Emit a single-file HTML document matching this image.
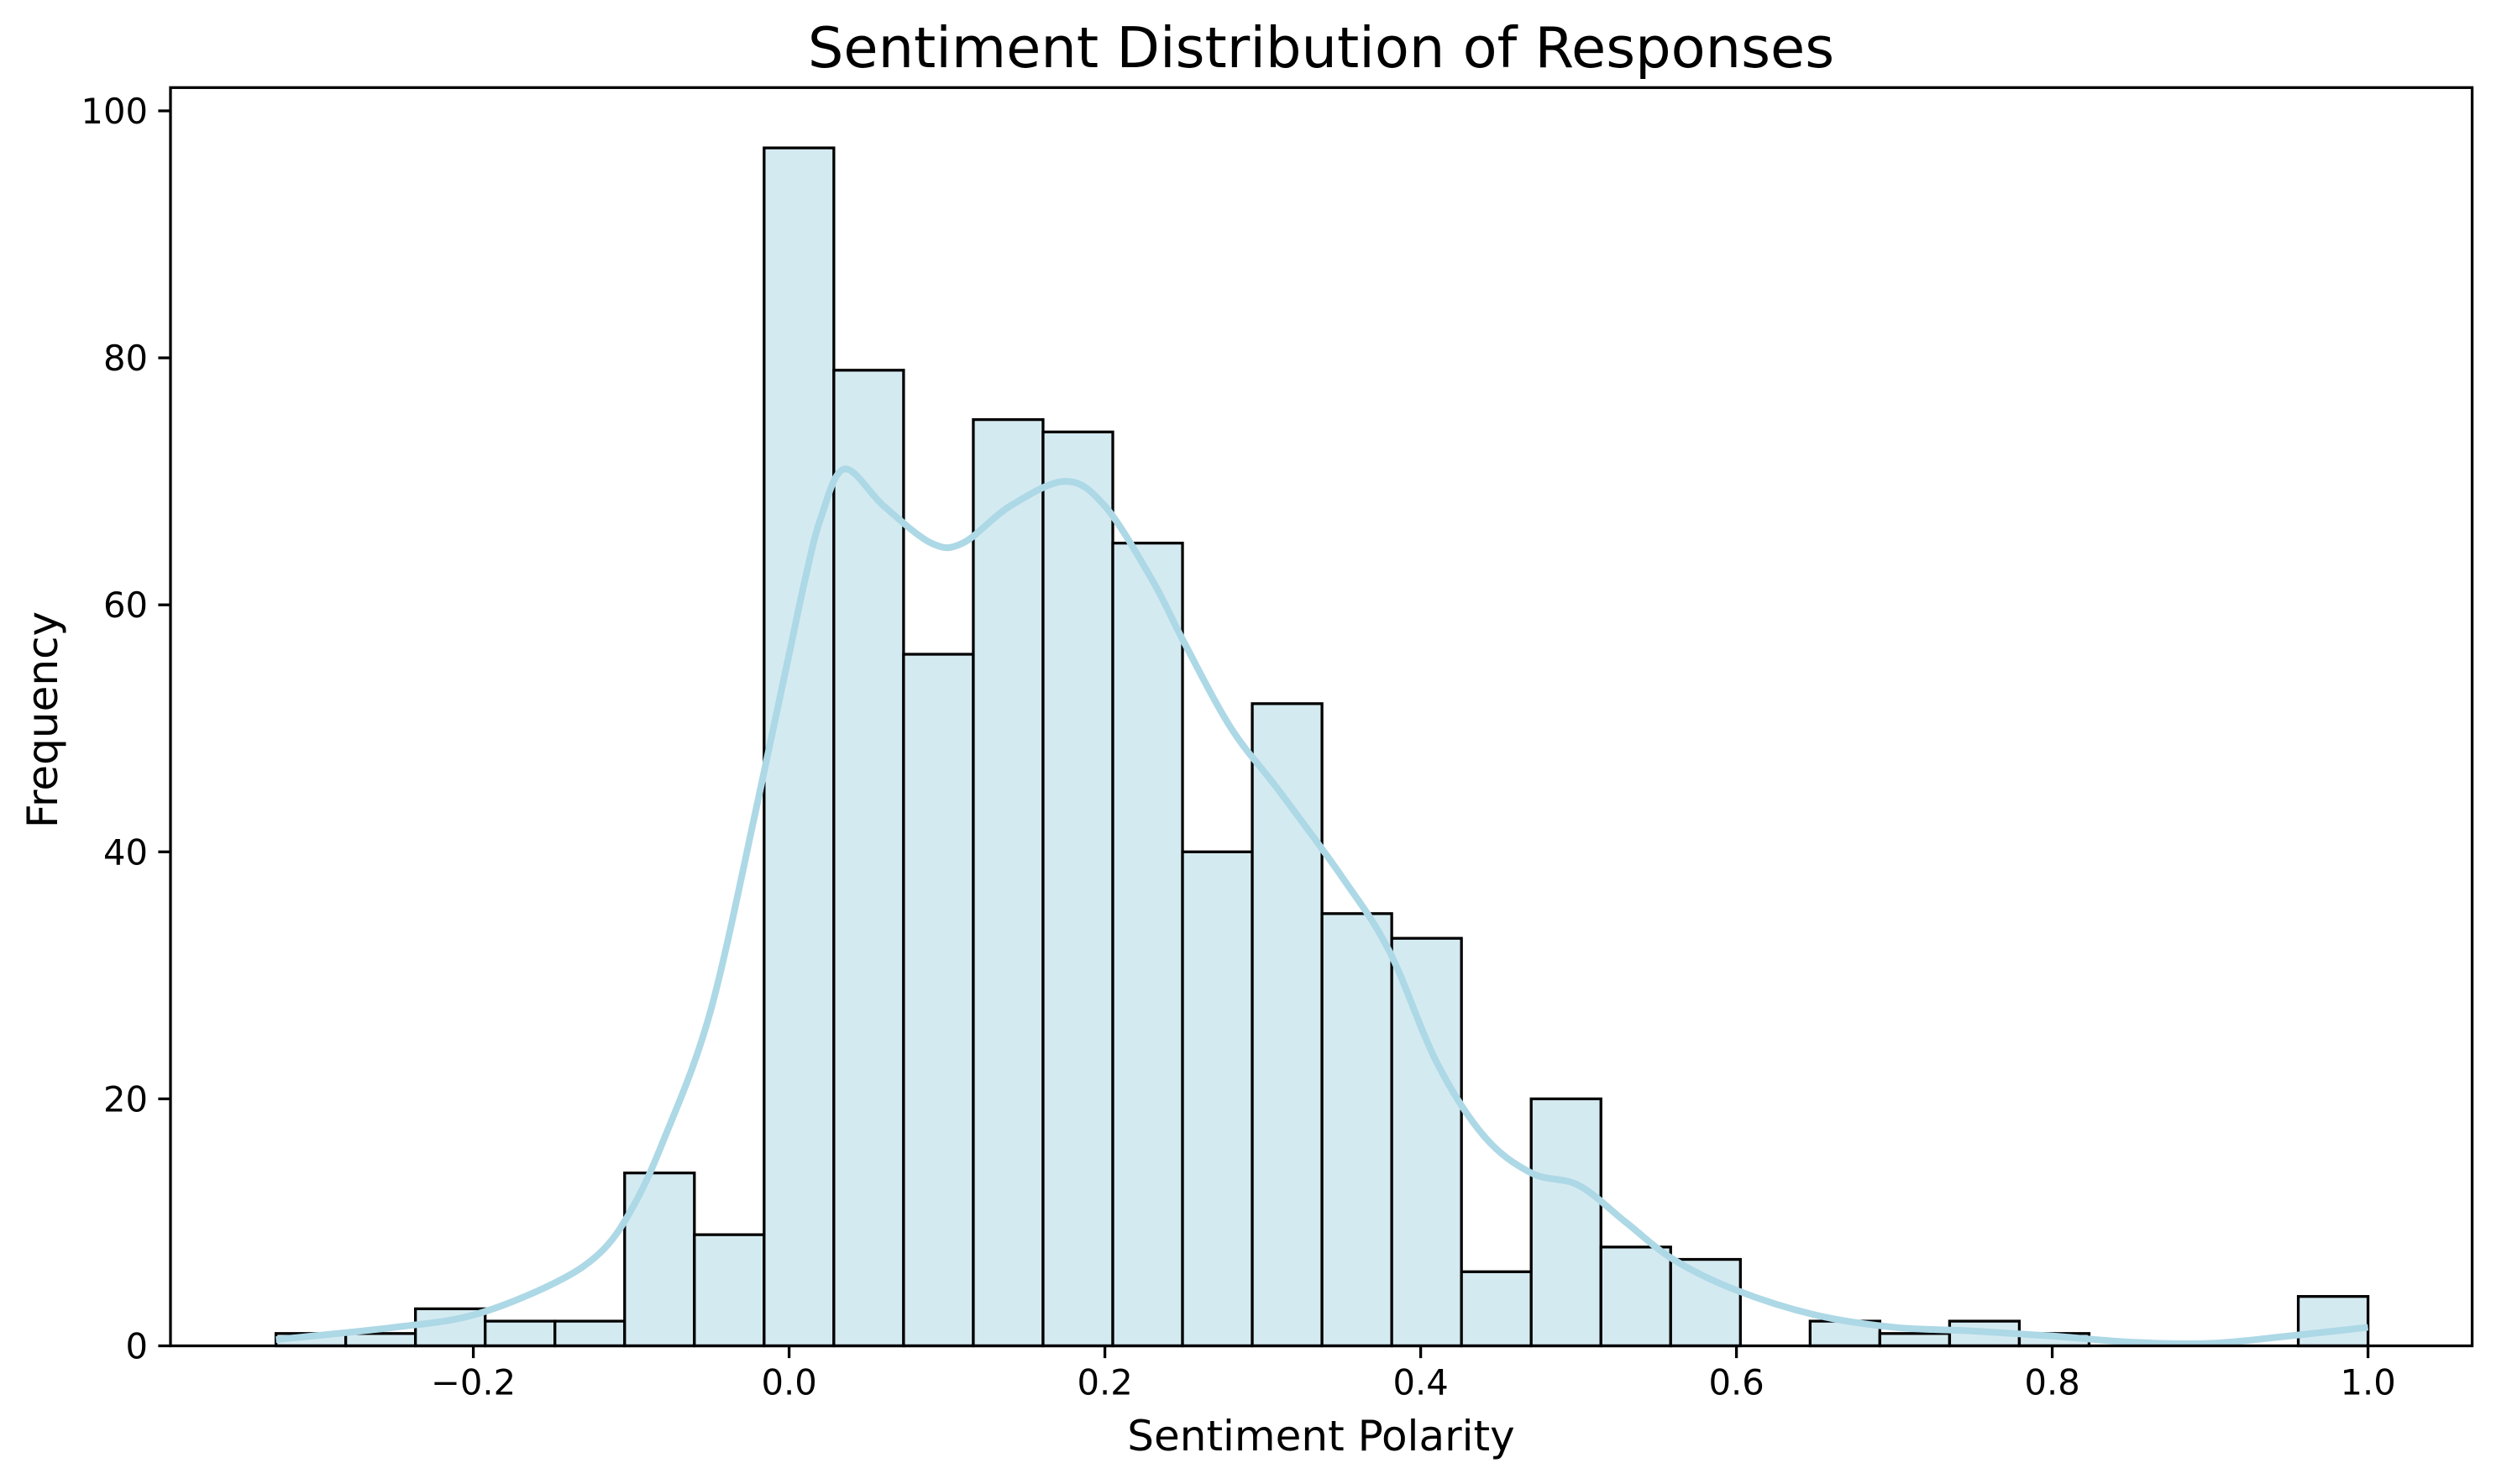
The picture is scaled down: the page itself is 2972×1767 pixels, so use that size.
<!DOCTYPE html>
<html><head><meta charset="utf-8"><style>
html,body{margin:0;padding:0;background:#fff;}
svg{display:block;font-family:"DejaVu Sans","Liberation Sans",sans-serif;}
</style></head><body>
<svg id="chart" width="2972" height="1767" viewBox="0 0 2972 1767" xmlns="http://www.w3.org/2000/svg">
<rect x="0" y="0" width="2972" height="1767" fill="#fff"/>
<text x="1573" y="80" font-size="67" text-anchor="middle">Sentiment Distribution of Responses</text>
<text x="1573" y="1727" font-size="50" text-anchor="middle">Sentiment Polarity</text>
<text transform="translate(68,857) rotate(-90)" font-size="50" text-anchor="middle">Frequency</text>
<g id="bars"></g>
<g id="kde"></g>
<g id="axes"></g>
</svg>
<script>
const binStart = -0.325;
const binEnd = 1.0;
const counts = [1,1,3,2,2,14,9,97,79,56,75,74,65,40,52,35,33,6,20,8,7,0,2,1,2,1,0,0,0,4];
const kdeX = [-0.325,-0.25,-0.2,-0.15,-0.12,-0.1,-0.08,-0.05,-0.02,0.0,0.01,0.02,0.035,0.06,0.09,0.11,0.14,0.175,0.2,0.23,0.25,0.28,0.31,0.35,0.38,0.41,0.44,0.47,0.5,0.53,0.56,0.6,0.65,0.7,0.75,0.8,0.85,0.9,0.95,1.0];
const kdeY = [0.5,1.5,2.5,5,7.5,11,16.5,27,44,56,62,67,71,68,65,65,68,70,68,62,57,50,45,38,32,23,17,14,13,10,7,4.5,2.5,1.5,1.2,0.8,0.3,0.2,0.8,1.5];
const xTicks = [-0.2,0.0,0.2,0.4,0.6,0.8,1.0];
const xTickLabels = ["\u22120.2","0.0","0.2","0.4","0.6","0.8","1.0"];
const yTicks = [0,20,40,60,80,100];
const yTickLabels = ["0","20","40","60","80","100"];

const L=203, R=2943.6, T=104.3, B=1602.5;
const X = v => 939.6 + v*1880;
const Y = v => 1602.5 - v*14.705;
const NS="http://www.w3.org/2000/svg";
function mk(tag, attrs, parent){const e=document.createElementNS(NS,tag);for(const k in attrs)e.setAttribute(k,attrs[k]);parent.appendChild(e);return e;}

const bars=document.getElementById('bars');
const w=(binEnd-binStart)/counts.length;
counts.forEach((c,i)=>{
  if(c<=0) return;
  const x0=X(binStart+i*w), x1=X(binStart+(i+1)*w);
  const r=mk('rect',{x:x0,y:Y(c),width:x1-x0,height:Y(0)-Y(c),fill:'#d4eaf1',stroke:'#000','stroke-width':3.3},bars);
  
  
});

const kde=document.getElementById('kde');
const pts=kdeX.map((v,i)=>[X(v),Y(kdeY[i])]);
let d='M'+pts[0][0]+','+pts[0][1];
for(let i=0;i<pts.length-1;i++){
  const p0=pts[Math.max(0,i-1)],p1=pts[i],p2=pts[i+1],p3=pts[Math.min(pts.length-1,i+2)];
  const c1=[p1[0]+(p2[0]-p0[0])/6,p1[1]+(p2[1]-p0[1])/6];
  const c2=[p2[0]-(p3[0]-p1[0])/6,p2[1]-(p3[1]-p1[1])/6];
  d+=' C'+c1[0]+','+c1[1]+' '+c2[0]+','+c2[1]+' '+p2[0]+','+p2[1];
}
const kp=mk('path',{d:d,fill:'none',stroke:'#add8e6','stroke-width':8,'stroke-linecap':'butt'},kde);



const axes=document.getElementById('axes');
const fr=mk('rect',{x:L,y:T,width:R-L,height:B-T,fill:'none',stroke:'#000','stroke-width':3.3},axes);


xTicks.forEach((v,i)=>{
  const t=mk('line',{x1:X(v),x2:X(v),y1:B,y2:B+14.6,stroke:'#000','stroke-width':3.3},axes);
  
  
  const l=mk('text',{x:X(v),y:B+58,'font-size':41.7,'text-anchor':'middle'},axes);
  l.textContent=xTickLabels[i];
  
  
});
yTicks.forEach((v,i)=>{
  const t=mk('line',{x1:L-14.6,x2:L,y1:Y(v),y2:Y(v),stroke:'#000','stroke-width':3.3},axes);
  
  
  const l=mk('text',{x:L-27,y:Y(v)+15,'font-size':41.7,'text-anchor':'end'},axes);
  l.textContent=yTickLabels[i];
  
  
});
</script>
</body></html>
